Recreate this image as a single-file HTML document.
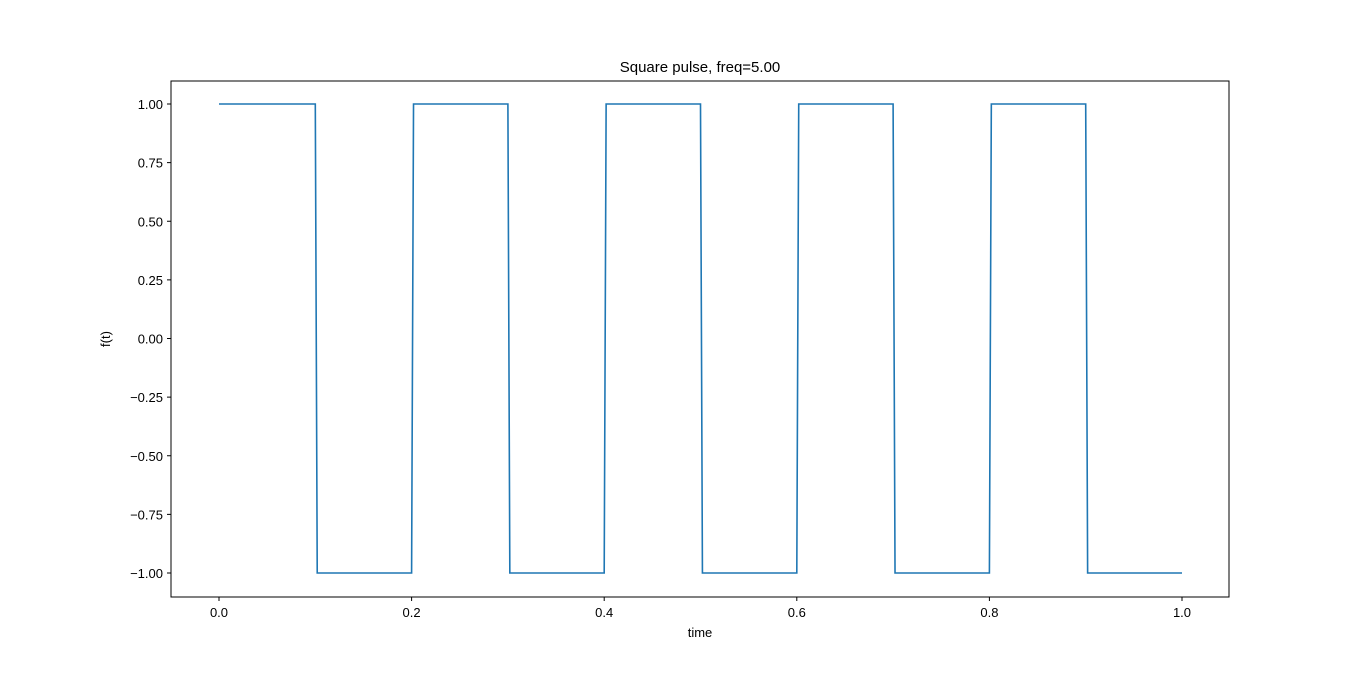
<!DOCTYPE html>
<html><head><meta charset="utf-8"><style>
body{margin:0;background:#fff;}
svg text{font-family:"Liberation Sans","DejaVu Sans",sans-serif;fill:#000;}
</style></head><body>
<svg width="1366" height="671">
<rect x="0" y="0" width="1366" height="671" fill="#fff"/>
<text x="700" y="72" font-size="15" text-anchor="middle">Square pulse, freq=5.00</text>
<g id="plot"></g>
<rect x="171" y="81" width="1058" height="516" fill="none" stroke="#000" stroke-width="1"/>
<text x="700" y="637" font-size="13" text-anchor="middle">time</text>
<text transform="translate(110,339) rotate(-90)" font-size="13" text-anchor="middle">f(t)</text>
</svg>
<script>
const times=[0,0.1,0.102,0.2,0.202,0.3,0.302,0.4,0.402,0.5,0.502,0.6,0.602,0.7,0.702,0.8,0.802,0.9,0.902,1.0];
const values=[1,1,-1,-1,1,1,-1,-1,1,1,-1,-1,1,1,-1,-1,1,1,-1,-1];
const xTicks=[0,0.2,0.4,0.6,0.8,1.0];
const xTickLabels=["0.0","0.2","0.4","0.6","0.8","1.0"];
const yTicks=[1,0.75,0.5,0.25,0,-0.25,-0.5,-0.75,-1];
const yTickLabels=["1.00","0.75","0.50","0.25","0.00","\u22120.25","\u22120.50","\u22120.75","\u22121.00"];
const NS="http://www.w3.org/2000/svg";
const xs=v=>219+v*963;
const ys=v=>338.5-v*234.5;
const g=document.getElementById('plot');
function mk(t,a){const e=document.createElementNS(NS,t);for(const k in a)e.setAttribute(k,a[k]);return e;}
xTicks.forEach((v,i)=>{
 const l=mk('line',{x1:xs(v),x2:xs(v),y1:597,y2:601,stroke:'#000'});
 
 
 g.appendChild(l);
 const t=mk('text',{x:xs(v),y:617,'font-size':13,'text-anchor':'middle'});
 t.textContent=xTickLabels[i];
 
 
 g.appendChild(t);
});
yTicks.forEach((v,i)=>{
 const l=mk('line',{x1:167,x2:171,y1:ys(v),y2:ys(v),stroke:'#000'});
 
 
 g.appendChild(l);
 const t=mk('text',{x:163,y:ys(v)+5,'font-size':13,'text-anchor':'end'});
 t.textContent=yTickLabels[i];
 
 
 g.appendChild(t);
});
const pts=times.map((t,i)=>xs(t)+','+ys(values[i])).join(' ');
const pl=mk('polyline',{points:pts,fill:'none',stroke:'#1f77b4','stroke-width':1.6});


g.appendChild(pl);
</script>
</body></html>
